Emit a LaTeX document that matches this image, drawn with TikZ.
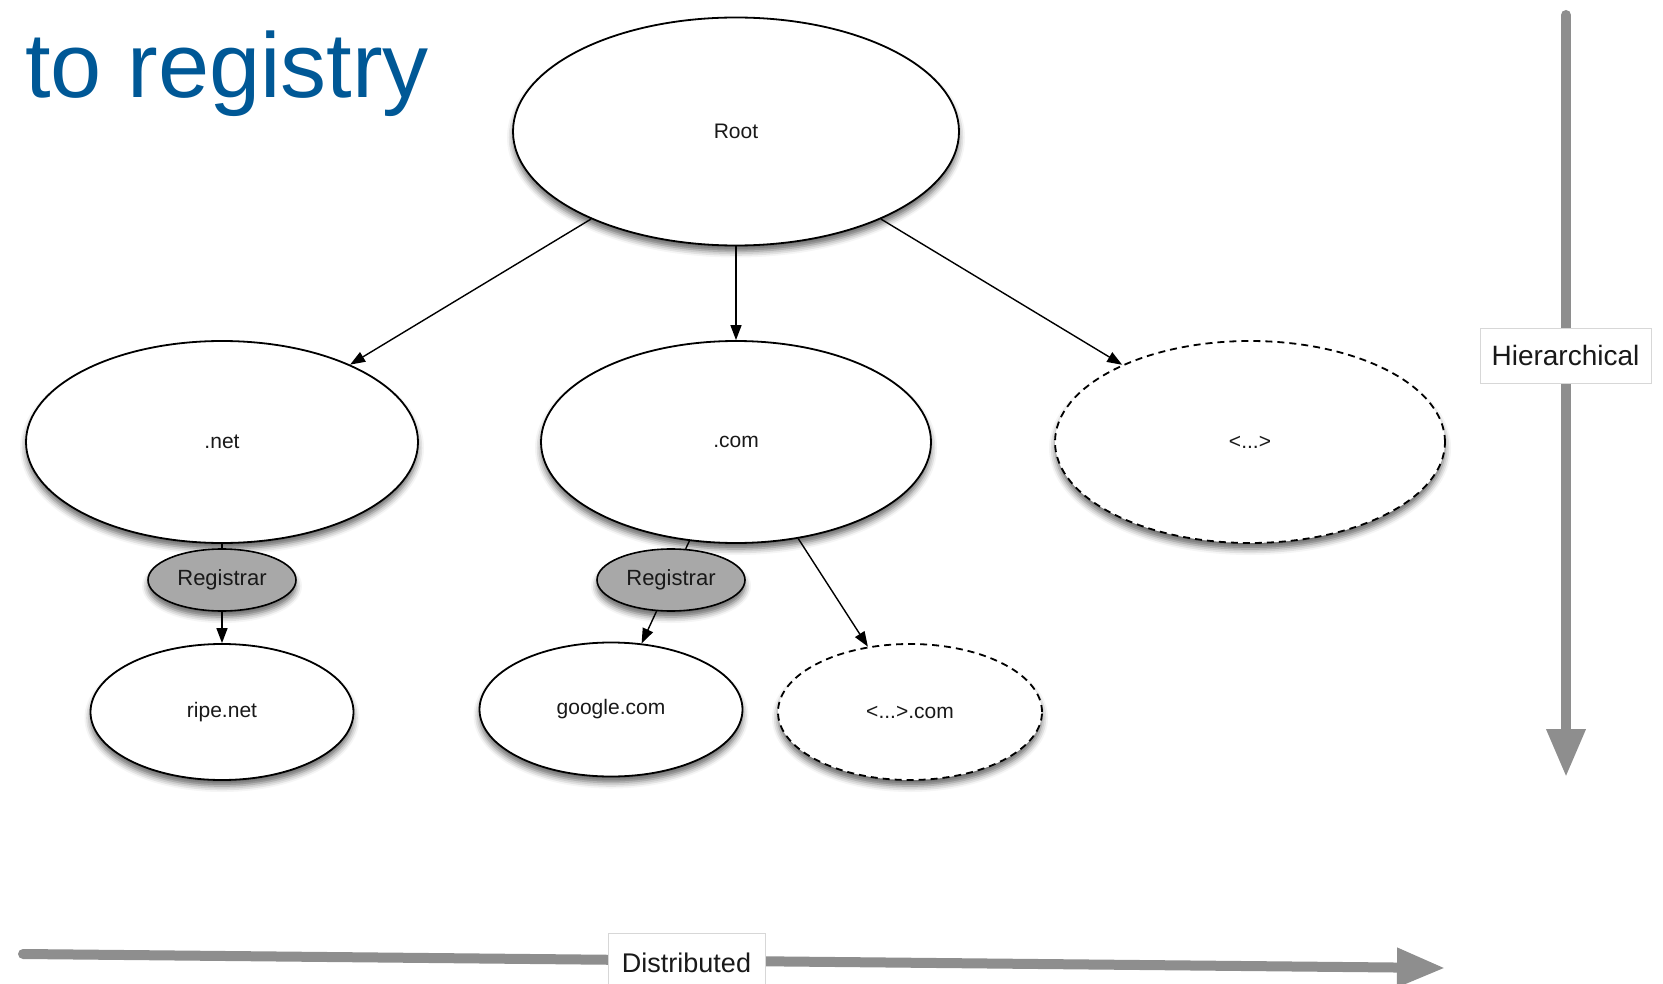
\documentclass[tikz,border=0pt]{standalone}
\usepackage{fontspec}
\setmainfont{Liberation Sans}
\usetikzlibrary{shapes.geometric,arrows.meta,shadows.blur}
\definecolor{titleblue}{RGB}{0,88,150}
\definecolor{axisgray}{RGB}{142,142,142}
\definecolor{regfill}{RGB}{168,168,168}
\definecolor{boxline}{RGB}{215,215,215}
\definecolor{txt}{RGB}{25,25,25}
\begin{document}
\begin{tikzpicture}[x=1pt,y=-1pt,
  shad/.style={blur shadow={shadow xshift=0pt, shadow yshift=-6pt, shadow blur radius=6pt, shadow opacity=60}},
  ell/.style={ellipse, draw=black, line width=1.8pt, fill=white, inner sep=0pt, text=txt,
    font=\fontsize{21}{21}\selectfont, shad},
  dashedell/.style={ell, dash pattern=on 7pt off 5pt},
  regnode/.style={ellipse, draw=black, line width=1.6pt, fill=regfill, inner sep=0pt, text=txt,
    minimum width=148pt, minimum height=62pt, font=\fontsize{22}{22}\selectfont, shad},
  conn/.style={draw=black, line width=1.4pt, -{Triangle[length=15pt,width=11pt]}},
  plainconn/.style={draw=black, line width=1.4pt},
  axis/.style={draw=axisgray, line width=10pt, line cap=round, -{Triangle[length=48pt,width=37pt]}},
  labelbox/.style={draw=boxline, line width=0.8pt, fill=white, inner sep=0pt, text=txt}
]
\useasboundingbox (0,0) rectangle (1663,984);

% title
\node[anchor=base west, inner sep=0pt, text=titleblue, font=\fontsize{92}{92}\selectfont] (title) at (25,97.5) {to registry};

% axes
\coordinate (htop) at (1566,15);
\coordinate (hend) at (1566,777);
\coordinate (dstart) at (23,954);
\coordinate (dend) at (1445,968);
\draw[axis] (htop) -- (hend);
\draw[axis] (dstart) -- (dend);

% tree nodes
\node[ell, minimum width=446pt, minimum height=228pt] (root) at (736,131.5) {Root};
\node[ell, minimum width=392pt, minimum height=202pt] (net) at (222,442) {.net};
\node[ell, minimum width=390pt, minimum height=202pt] (com) at (736,442) {.com};
\node[dashedell, minimum width=390pt, minimum height=202pt] (other) at (1250,442) {<...>};
\node[regnode] (regL) at (222,580) {Registrar};
\node[regnode] (regR) at (671,580) {Registrar};
\node[ell, minimum width=263pt, minimum height=136pt] (ripe) at (222,712) {ripe.net};
\node[ell, minimum width=263pt, minimum height=134pt] (google) at (611,709.5) {google.com};
\node[dashedell, minimum width=264pt, minimum height=136pt] (othercom) at (910,712) {<...>.com};

% connectors
\draw[conn] (root) -- (net);
\draw[conn] (root) -- (com);
\draw[conn] (root) -- (other);
\draw[plainconn] (net) -- (regL);
\draw[conn] (regL) -- (ripe);
\draw[plainconn] (com) -- (regR);
\draw[conn] (regR) -- (google);
\draw[conn] (com) -- (othercom);

% axis labels
\node[labelbox, minimum width=171pt, minimum height=55pt, font=\fontsize{28}{28}\selectfont] (hier) at (1565.5,355.5) {Hierarchical};
\node[labelbox, minimum width=157pt, minimum height=60pt, font=\fontsize{27}{27}\selectfont] (dist) at (686.5,963) {Distributed};
\end{tikzpicture}
\end{document}
